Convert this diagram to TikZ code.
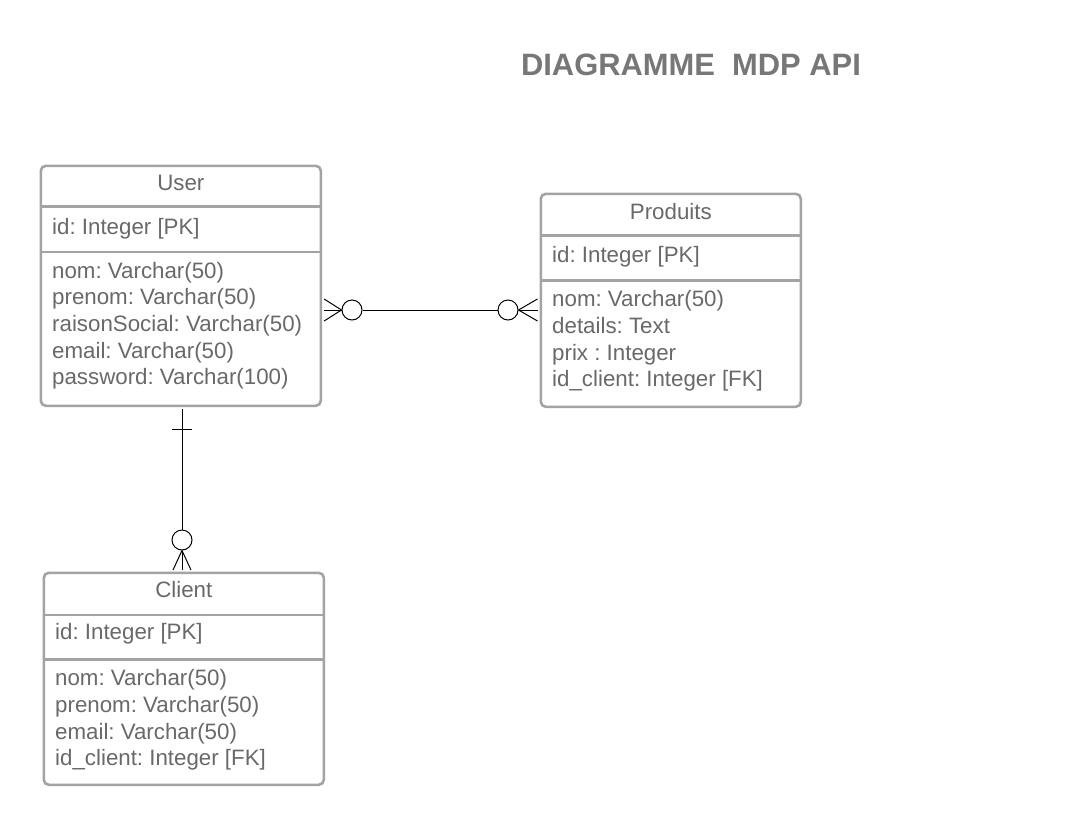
\documentclass[tikz,border=0pt]{standalone}
\usepackage{fontspec}
\setmainfont{Liberation Sans}
\usetikzlibrary{calc}
\definecolor{bordergray}{RGB}{163,163,163}
\definecolor{textgray}{RGB}{105,105,105}
\definecolor{titlegray}{RGB}{119,119,119}
\frenchspacing
\begin{document}
\begin{tikzpicture}[x=1pt,y=-1pt,
  box/.style={draw=bordergray, line width=2.6pt, rounded corners=5pt, fill=white, anchor=north west, inner sep=0pt},
  sepline/.style={draw=bordergray, line width=2.6pt},
  txt/.style={anchor=base west, inner sep=0pt, text=textgray, font=\fontsize{22.3}{26}\selectfont},
  ttl/.style={anchor=base, inner sep=0pt, text=textgray, font=\fontsize{22.3}{26}\selectfont},
  conn/.style={draw=black, line width=1pt},
  circ/.style={circle, draw=black, line width=1pt, minimum size=20pt, inner sep=0pt, fill=white}]
\useasboundingbox (0,0) rectangle (1075,825);

% Title
\node[anchor=base, inner sep=0pt, text=titlegray, font=\fontsize{30.9}{34}\selectfont\bfseries] (title) at (691,75.5) {DIAGRAMME\ \ MDP API};

% User
\node[box, minimum width=280, minimum height=240] (user) at (39.5,164.5) {};
\draw[sepline] ($(user.north west)+(0,42)$) -- ($(user.north east)+(0,42)$);
\draw[sepline] ($(user.north west)+(0,87.5)$) -- ($(user.north east)+(0,87.5)$);
\node[ttl] (userT) at ($(user.north)+(0,26.3)$) {User};
\node[txt] (userId) at ($(user.north west)+(12.5,69.8)$) {id: Integer [PK]};
\node[txt] (userA) at ($(user.north west)+(12.5,113.8)$) {nom: Varchar(50)};
\node[txt] (userB) at ($(user.north west)+(12.5,140.4)$) {prenom: Varchar(50)};
\node[txt] (userC) at ($(user.north west)+(12.5,167)$) {raisonSocial: Varchar(50)};
\node[txt] (userD) at ($(user.north west)+(12.5,193.6)$) {email: Varchar(50)};
\node[txt] (userE) at ($(user.north west)+(12.5,220.2)$) {password: Varchar(100)};

% Produits
\node[box, minimum width=260, minimum height=213] (prod) at (539.5,192.5) {};
\draw[sepline] ($(prod.north west)+(0,43)$) -- ($(prod.north east)+(0,43)$);
\draw[sepline] ($(prod.north west)+(0,88)$) -- ($(prod.north east)+(0,88)$);
\node[ttl] (prodT) at ($(prod.north)+(0,26.8)$) {Produits};
\node[txt] (prodId) at ($(prod.north west)+(12.5,70.3)$) {id: Integer [PK]};
\node[txt] (prodA) at ($(prod.north west)+(12.5,114.3)$) {nom: Varchar(50)};
\node[txt] (prodB) at ($(prod.north west)+(12.5,140.9)$) {details: Text};
\node[txt] (prodC) at ($(prod.north west)+(12.5,167.5)$) {prix : Integer};
\node[txt] (prodD) at ($(prod.north west)+(12.5,194.1)$) {id\_client: Integer [FK]};

% Client
\node[box, minimum width=280, minimum height=212] (client) at (42.5,571.5) {};
\draw[sepline] ($(client.north west)+(0,43.5)$) -- ($(client.north east)+(0,43.5)$);
\draw[sepline] ($(client.north west)+(0,88)$) -- ($(client.north east)+(0,88)$);
\node[ttl] (clientT) at ($(client.north)+(0,26.3)$) {Client};
\node[txt] (clientId) at ($(client.north west)+(12.5,68.3)$) {id: Integer [PK]};
\node[txt] (clientA) at ($(client.north west)+(12.5,114.3)$) {nom: Varchar(50)};
\node[txt] (clientB) at ($(client.north west)+(12.5,140.9)$) {prenom: Varchar(50)};
\node[txt] (clientC) at ($(client.north west)+(12.5,167.5)$) {email: Varchar(50)};
\node[txt] (clientD) at ($(client.north west)+(12.5,194.1)$) {id\_client: Integer [FK]};

% User -- Produits
\node[circ] (c1) at (352,310) {};
\node[circ] (c2) at (508,310) {};
\draw[conn] (c1) -- (c2);
\draw[conn] (c1.west) -- ($(user.east |- c1)+(2,0)$);
\draw[conn] (c1.west) -- ($(user.east |- c1)+(2,-11)$);
\draw[conn] (c1.west) -- ($(user.east |- c1)+(2,11)$);
\draw[conn] (c2.east) -- ($(prod.west |- c2)+(-2,0)$);
\draw[conn] (c2.east) -- ($(prod.west |- c2)+(-2,-11)$);
\draw[conn] (c2.east) -- ($(prod.west |- c2)+(-2,11)$);

% User -- Client
\node[circ] (c3) at (182,540) {};
\draw[conn] ($(c3 |- user.south)+(0,1.5)$) -- (c3.north);
\draw[conn] ($(c3 |- user.south)+(-10,22)$) -- ($(c3 |- user.south)+(10,22)$);
\draw[conn] (c3.south) -- ($(c3 |- client.north)+(0,-1.5)$);
\draw[conn] (c3.south) -- ($(c3 |- client.north)+(-9,-1.5)$);
\draw[conn] (c3.south) -- ($(c3 |- client.north)+(9,-1.5)$);
\end{tikzpicture}
\end{document}
